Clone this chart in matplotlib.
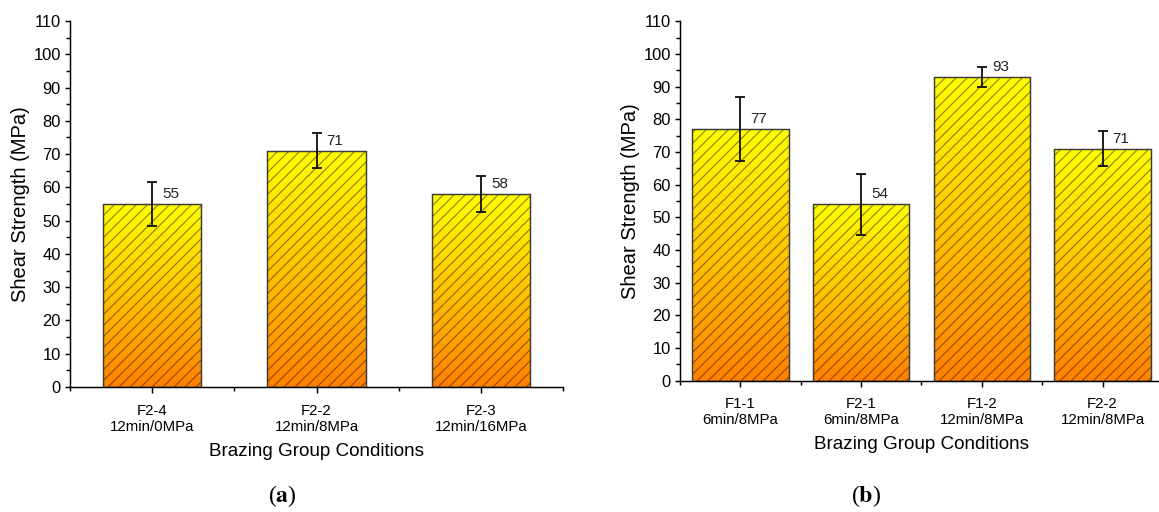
import numpy as np
import matplotlib.pyplot as plt
from matplotlib.colors import LinearSegmentedColormap

plt.rcParams['font.family'] = ['Liberation Sans', 'DejaVu Sans']
plt.rcParams['mathtext.fontset'] = 'stix'
plt.rcParams['hatch.linewidth'] = 0.6

# Данные панели (a)
groups_a = ['F2-4', 'F2-2', 'F2-3']
cond_a = ['12min/0MPa', '12min/8MPa', '12min/16MPa']
strength_a = [55, 71, 58]
err_a = [6.6, 5.3, 5.5]

# Данные панели (b)
groups_b = ['F1-1', 'F2-1', 'F1-2', 'F2-2']
cond_b = ['6min/8MPa', '6min/8MPa', '12min/8MPa', '12min/8MPa']
strength_b = [77, 54, 93, 71]
err_b = [9.8, 9.4, 3.1, 5.4]

grad = LinearSegmentedColormap.from_list('yo', ['#FF8000', '#FFC400', '#FFFF00'])
DPI = 132
fig = plt.figure(figsize=(1159 / DPI, 512 / DPI), dpi=DPI)


def draw_panel(ax, groups, conds, values, errs, width):
    x = np.arange(1, len(values) + 1)
    # градиентная заливка каждого столбца
    for xi, v in zip(x, values):
        outline = ax.bar(xi, v, width=width, facecolor='none', edgecolor='none')[0]
        img = ax.imshow(np.linspace(0, 1, 256).reshape(-1, 1), cmap=grad, origin='lower',
                        extent=[xi - width / 2, xi + width / 2, 0, v], aspect='auto', zorder=1)
        img.set_clip_path(outline)
    ax.bar(x, values, width=width, facecolor='none', edgecolor=(0.2, 0.1, 0, 0.55),
           hatch='////', linewidth=0, zorder=2)
    ax.bar(x, values, width=width, facecolor='none', edgecolor='#3c3c3c',
           linewidth=0.8, zorder=3)
    ax.errorbar(x, values, yerr=errs, fmt='none', ecolor='#111111', elinewidth=1.0,
                capsize=2.5, capthick=1.0, zorder=4)
    for xi, v in zip(x, values):
        ax.annotate(str(v), (xi, v), xytext=(5.5, 1.5), textcoords='offset points',
                    ha='left', va='bottom', fontsize=8.3, color='#222222')

    ax.set_xlim(0.5, len(values) + 0.5)
    ax.set_ylim(0, 110)
    ax.set_yticks(np.arange(0, 111, 10))
    ax.set_yticks(np.arange(0, 111, 5), minor=True)
    ax.set_xticks(x)
    ax.set_xticks(np.arange(0.5, len(values) + 0.6, 1), minor=True)
    ax.set_xticklabels([g + '\n' + c for g, c in zip(groups, conds)], fontsize=8.2,
                       linespacing=1.2)
    ax.tick_params(axis='y', labelsize=9, length=3, width=0.8, direction='out', pad=2)
    ax.tick_params(axis='y', which='minor', length=2, width=0.8)
    ax.tick_params(axis='x', which='major', length=3, width=0.8, pad=6)
    ax.tick_params(axis='x', which='minor', length=2, width=0.8)
    ax.spines['top'].set_visible(False)
    ax.spines['right'].set_visible(False)
    ax.spines['left'].set_linewidth(0.8)
    ax.spines['bottom'].set_linewidth(0.8)
    ax.set_ylabel('Shear Strength (MPa)', fontsize=11, labelpad=2)
    ax.set_xlabel('Brazing Group Conditions', fontsize=10.3, labelpad=5)


ax1 = fig.add_axes([0.0604, 0.2441, 0.4254, 0.7149])
draw_panel(ax1, groups_a, cond_a, strength_a, err_a, 0.6)

ax2 = fig.add_axes([0.5867, 0.2566, 0.4167, 0.7018])
draw_panel(ax2, groups_b, cond_b, strength_b, err_b, 0.8)

fig.text(282 / 1159, 1 - 496 / 512, r'($\mathbf{a}$)', ha='center', va='center',
         fontsize=13, family='Liberation Serif')
fig.text(866 / 1159, 1 - 496 / 512, r'($\mathbf{b}$)', ha='center', va='center',
         fontsize=13, family='Liberation Serif')

fig.savefig('out.png', dpi=DPI)
